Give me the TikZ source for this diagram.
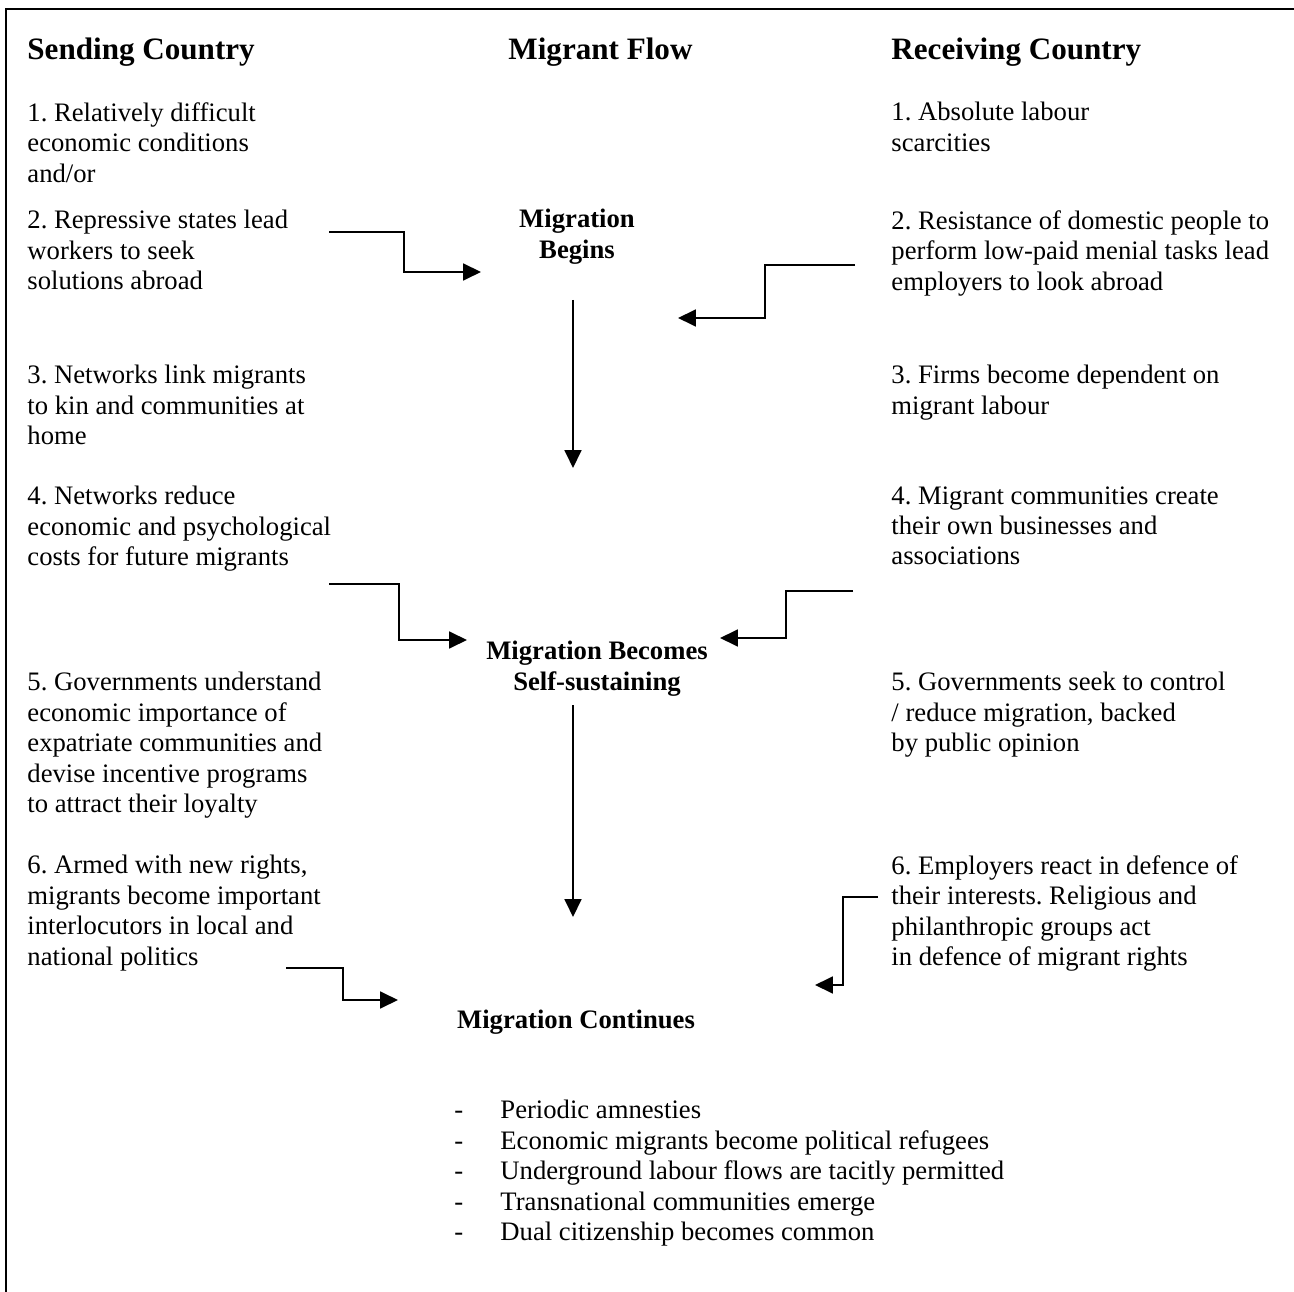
\documentclass[tikz,border=0pt]{standalone}
\usepackage{fontspec}
\setmainfont{Liberation Serif}
\usetikzlibrary{arrows.meta}
\frenchspacing

\begin{document}
\begin{tikzpicture}[x=0.45pt, y=-0.45pt,
  txt/.style={anchor=north west, align=left, inner sep=0pt, font=\fontsize{12}{13.7}\selectfont},
  head/.style={anchor=north west, inner sep=0pt, font=\fontsize{14}{16}\selectfont\bfseries},
  stage/.style={anchor=north, align=center, inner sep=0pt, font=\fontsize{12}{13.7}\selectfont\bfseries},
  flow/.style={line width=1.1pt, -{Triangle[length=8pt, width=7.5pt]}}]

\useasboundingbox (0,0) rectangle (1294,1292);
\draw[line width=1pt] (6,1292) -- (6,9) -- (1294,9);

\node[head] (hSend) at (27,37) {Sending Country};
\node[head] (hFlow) at (508,37) {Migrant Flow};
\node[head] (hRecv) at (891,37) {Receiving Country};

\node[txt] (s1) at (27,102) {1. Relatively difficult\\economic conditions\\and/or};
\node[txt] (s2) at (27,210) {2. Repressive states lead\\workers to seek\\solutions abroad};
\node[txt] (s3) at (27,365) {3. Networks link migrants\\to kin and communities at\\home};
\node[txt] (s4) at (27,486) {4. Networks reduce\\economic and psychological\\costs for future migrants};
\node[txt] (s5) at (27,672) {5. Governments understand\\economic importance of\\expatriate communities and\\devise incentive programs\\to attract their loyalty};
\node[txt] (s6) at (27,855) {6. Armed with new rights,\\migrants become important\\interlocutors in local and\\national politics};

\node[txt] (r1) at (891,102) {1. Absolute labour\\scarcities};
\node[txt] (r2) at (891,210) {2. Resistance of domestic people to\\perform low-paid menial tasks lead\\employers to look abroad};
\node[txt] (r3) at (891,365) {3. Firms become dependent on\\migrant labour};
\node[txt] (r4) at (891,486) {4. Migrant communities create\\their own businesses and\\associations};
\node[txt] (r5) at (891,672) {5. Governments seek to control\\/ reduce migration, backed\\by public opinion};
\node[txt] (r6) at (891,855) {6. Employers react in defence of\\their interests. Religious and\\philanthropic groups act\\in defence of migrant rights};

\node[stage] (mBegin) at (577,209) {Migration\\Begins};
\node[stage] (mSelf) at (597,641) {Migration Becomes\\Self-sustaining};
\node[stage] (mCont) at (576,1010) {Migration Continues};

\node[anchor=north west, inner sep=0pt, font=\fontsize{12}{13.7}\selectfont] (outcomes) at (454,1097) {%
  \begin{tabular}{@{}p{20.7pt}@{}l@{}}
  - & Periodic amnesties\\
  - & Economic migrants become political refugees\\
  - & Underground labour flows are tacitly permitted\\
  - & Transnational communities emerge\\
  - & Dual citizenship becomes common
  \end{tabular}};

\coordinate (a1s) at (329,232);
\coordinate (a1e) at (481,272);
\coordinate (a2s) at (855,265);
\coordinate (a2e) at (678,318);
\coordinate (a3s) at (573,300);
\coordinate (a3e) at (573,468);
\coordinate (a4s) at (329,584);
\coordinate (a4e) at (467,640);
\coordinate (a5s) at (853,591);
\coordinate (a5e) at (720,638);
\coordinate (a6s) at (573,705);
\coordinate (a6e) at (573,917);
\coordinate (a7s) at (286,968);
\coordinate (a7e) at (398,1000);
\coordinate (a8s) at (878,897);
\coordinate (a8e) at (815,985);

\draw[flow] (a1s) -- +(75,0) |- (a1e);
\draw[flow] (a2s) -- +(-90,0) |- (a2e);
\draw[flow] (a3s) -- (a3e);
\draw[flow] (a4s) -- +(70,0) |- (a4e);
\draw[flow] (a5s) -- +(-67,0) |- (a5e);
\draw[flow] (a6s) -- (a6e);
\draw[flow] (a7s) -- +(57,0) |- (a7e);
\draw[flow] (a8s) -- +(-35,0) |- (a8e);

\end{tikzpicture}
\end{document}
